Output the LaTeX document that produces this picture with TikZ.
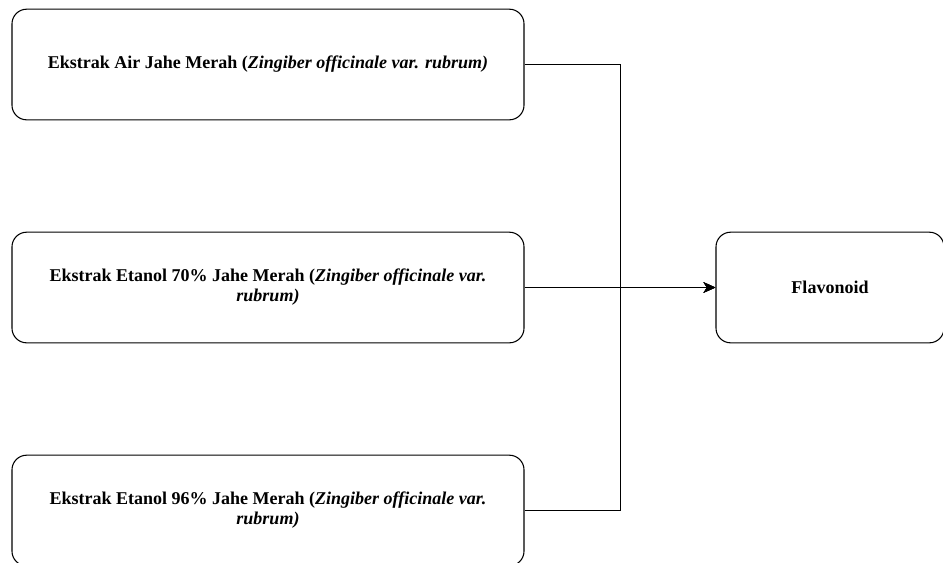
\documentclass[tikz,border=0pt]{standalone}
\usepackage{fontspec}
\setmainfont{Liberation Serif}
\usetikzlibrary{positioning, arrows.meta}

\tikzset{
    ekstrak/.style={draw, line width=0.8pt, rounded corners=11pt, minimum width=384pt, minimum height=83pt, align=center, font=\fontsize{13.5}{15}\selectfont\bfseries},
    hasil/.style={draw, line width=0.8pt, rounded corners=11pt, minimum width=171pt, minimum height=83pt, align=center, font=\fontsize{13.5}{15}\selectfont\bfseries},
    alur/.style={line width=0.75pt, -{Stealth[length=9pt, width=8pt, inset=2.5pt]}}
}

\begin{document}
\begin{tikzpicture}[x=0.75pt, y=-0.75pt]
    \useasboundingbox (0,0) rectangle (943,562);

    % extract boxes
    \node[ekstrak] (air) at (268,64.5) {Ekstrak Air Jahe Merah (\textit{Zingiber officinale var. rubrum)}};
    \node[ekstrak] (etanol70) at (268,287.5) {Ekstrak Etanol 70\% Jahe Merah (\textit{Zingiber officinale var.}\\\textit{rubrum)}};
    \node[ekstrak] (etanol96) at (268,510.5) {Ekstrak Etanol 96\% Jahe Merah (\textit{Zingiber officinale var.}\\\textit{rubrum)}};

    % result
    \node[hasil] (flavonoid) at (830,287.5) {Flavonoid};

    % connectors
    \coordinate (bus) at (620,287.5);
    \draw[alur] (air.east) -| (bus) -- (flavonoid.west);
    \draw[alur] (etanol96.east) -| (bus) -- (flavonoid.west);
    \draw[alur] (etanol70.east) -- (flavonoid.west);
\end{tikzpicture}
\end{document}
